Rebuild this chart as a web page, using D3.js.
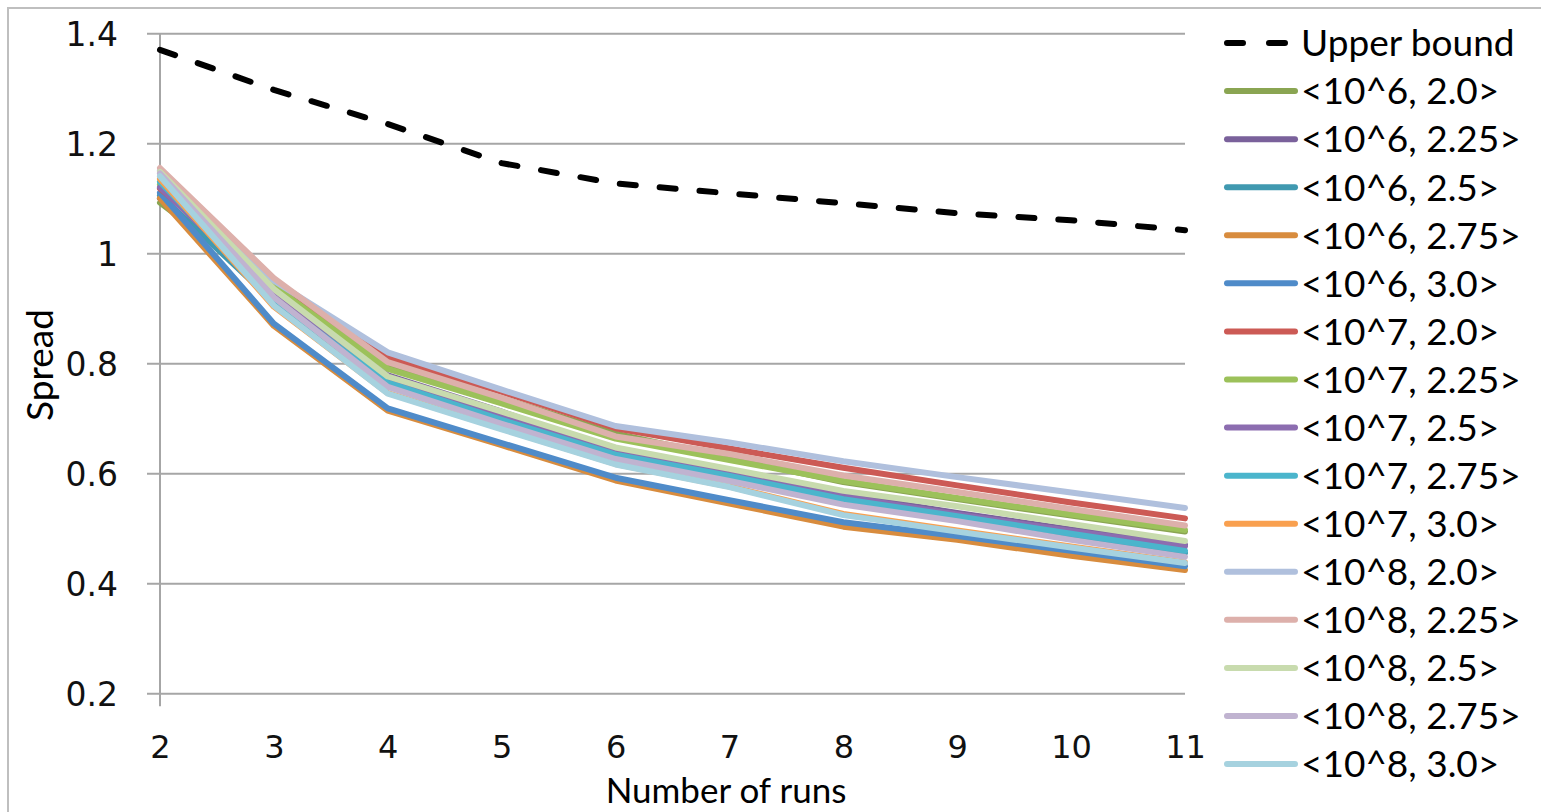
<!DOCTYPE html>
<html>
<head>
<meta charset="utf-8">
<script src="https://cdn.jsdelivr.net/npm/d3@7"></script>
<style>
  body { margin: 0; background: #fff; }
  svg { display: block; }
</style>
</head>
<body>
<script>
// number of runs on the x axis
var runs = [2, 3, 4, 5, 6, 7, 8, 9, 10, 11];
var yTicks = [0.2, 0.4, 0.6, 0.8, 1, 1.2, 1.4];

var upperBound = [1.370, 1.297, 1.235, 1.164, 1.127, 1.109, 1.091, 1.073, 1.060, 1.042];

// series names and colours, same order as legend
var seriesNames = ["<10^6, 2.0>", "<10^6, 2.25>", "<10^6, 2.5>", "<10^6, 2.75>", "<10^6, 3.0>",
                   "<10^7, 2.0>", "<10^7, 2.25>", "<10^7, 2.5>", "<10^7, 2.75>", "<10^7, 3.0>",
                   "<10^8, 2.0>", "<10^8, 2.25>", "<10^8, 2.5>", "<10^8, 2.75>", "<10^8, 3.0>"];
var seriesColors = ["#8aa552", "#7a619b", "#4099b0", "#d88c3e", "#4f8bc9",
                    "#cc5a55", "#9cc15a", "#8c6db0", "#4bb5cc", "#f9a04f",
                    "#b0c0dd", "#ddb0ab", "#c8dbae", "#c0b3d0", "#a6d2df"];

var s6_20  = [1.092, 0.935, 0.798, 0.736, 0.672, 0.628, 0.584, 0.553, 0.523, 0.494];
var s6_225 = [1.100, 0.928, 0.778, 0.712, 0.641, 0.601, 0.561, 0.528, 0.498, 0.470];
var s6_25  = [1.105, 0.912, 0.762, 0.694, 0.630, 0.589, 0.548, 0.516, 0.485, 0.455];
var s6_275 = [1.100, 0.868, 0.714, 0.651, 0.587, 0.545, 0.503, 0.479, 0.450, 0.424];
var s6_30  = [1.110, 0.872, 0.718, 0.655, 0.592, 0.551, 0.511, 0.486, 0.459, 0.431];
var s7_20  = [1.118, 0.945, 0.810, 0.748, 0.682, 0.645, 0.610, 0.578, 0.547, 0.518];
var s7_225 = [1.125, 0.940, 0.790, 0.727, 0.663, 0.624, 0.586, 0.555, 0.525, 0.497];
var s7_25  = [1.120, 0.925, 0.770, 0.705, 0.637, 0.598, 0.558, 0.525, 0.495, 0.467];
var s7_275 = [1.130, 0.915, 0.765, 0.697, 0.634, 0.595, 0.553, 0.522, 0.490, 0.459];
var s7_30  = [1.135, 0.903, 0.746, 0.681, 0.617, 0.576, 0.526, 0.496, 0.467, 0.438];
var s8_20  = [1.150, 0.950, 0.820, 0.752, 0.686, 0.656, 0.622, 0.593, 0.565, 0.537];
var s8_225 = [1.155, 0.955, 0.802, 0.737, 0.667, 0.635, 0.596, 0.566, 0.535, 0.505];
var s8_25  = [1.148, 0.935, 0.776, 0.712, 0.647, 0.608, 0.568, 0.540, 0.508, 0.477];
var s8_275 = [1.145, 0.920, 0.757, 0.690, 0.626, 0.586, 0.543, 0.513, 0.479, 0.448];
var s8_30  = [1.140, 0.905, 0.745, 0.680, 0.616, 0.575, 0.524, 0.494, 0.465, 0.437];

var seriesValues = [s6_20, s6_225, s6_25, s6_275, s6_30,
                    s7_20, s7_225, s7_25, s7_275, s7_30,
                    s8_20, s8_225, s8_25, s8_275, s8_30];

var W = 1541, H = 812;
var plot = {left: 160, right: 1185, top: 33.3, bottom: 693.3};
var textFont = "Lato, 'Open Sans', sans-serif";
var tickFont = "'DejaVu Sans', Verdana, sans-serif";

var svg = d3.select("body").append("svg")
    .attr("width", W)
    .attr("height", H);

// outer chart border
svg.append("rect")
    .attr("x", 8).attr("y", 8)
    .attr("width", W + 20).attr("height", H + 20)
    .attr("fill", "#fff")
    .attr("stroke", "#bfbfbf")
    .attr("stroke-width", 2);

var xScale = d3.scaleLinear().domain([2, 11]).range([plot.left, plot.right]);
var yScale = d3.scaleLinear().domain([0.2, 1.4]).range([plot.bottom, plot.top]);

//Gridlines + y axis
var yAxis = d3.axisLeft(yScale)
    .tickValues(yTicks)
    .tickSize(-(plot.right - plot.left))
    .tickFormat(function(d) { return d3.format("")(+d.toFixed(1)); });

var gy = svg.append("g")
    .attr("transform", "translate(" + plot.left + ",0)")
    .call(yAxis);
gy.select(".domain").remove();
gy.selectAll(".tick line")
    .attr("x1", -13)
    .attr("stroke", "#a6a6a6")
    .attr("stroke-width", 2);
gy.selectAll(".tick text")
    .attr("x", -42)
    .attr("dy", "0.36em")
    .style("font-family", tickFont)
    .style("font-size", "33px")
    .attr("fill", "#111");

//x axis
var xAxis = d3.axisBottom(xScale)
    .tickValues(runs)
    .tickSize(0)
    .tickFormat(d3.format("d"));

var gx = svg.append("g")
    .attr("transform", "translate(0," + plot.bottom + ")")
    .call(xAxis);
gx.select(".domain").remove();
gx.selectAll(".tick text")
    .attr("y", 53)
    .attr("dy", "0.36em")
    .style("font-family", tickFont)
    .style("font-size", "32px")
    .attr("fill", "#111");

// vertical axis line
svg.append("line")
    .attr("x1", plot.left).attr("x2", plot.left)
    .attr("y1", plot.top).attr("y2", plot.bottom + 13)
    .attr("stroke", "#a6a6a6")
    .attr("stroke-width", 2);

// axis titles
svg.append("text")
    .attr("x", 726).attr("y", 803)
    .attr("text-anchor", "middle")
    .style("font-family", textFont)
    .style("font-size", "35px")
    .text("Number of runs");

svg.append("text")
    .attr("transform", "translate(53,365) rotate(-90)")
    .attr("text-anchor", "middle")
    .style("font-family", textFont)
    .style("font-size", "37px")
    .text("Spread");

// line generator
var line = d3.line()
    .x(function(d, i) { return xScale(runs[i]); })
    .y(function(d) { return yScale(d); });

var lines = svg.append("g");
lines.selectAll("path.series")
    .data(seriesValues)
    .enter()
    .append("path")
    .attr("class", "series")
    .attr("d", function(d) { return line(d); })
    .attr("fill", "none")
    .attr("stroke", function(d, i) { return seriesColors[i]; })
    .attr("stroke-width", 6)
    .attr("stroke-linejoin", "round")
    .attr("stroke-linecap", "round");

lines.append("path")
    .attr("d", line(upperBound))
    .attr("fill", "none")
    .attr("stroke", "#000")
    .attr("stroke-width", 6)
    .attr("stroke-dasharray", "16,24")
    .attr("stroke-linecap", "round");

//Legend
var legendY0 = 43, legendStep = 48.07;
var legendItems = [{name: "Upper bound", color: "#000", dash: true}].concat(
    seriesNames.map(function(n, i) { return {name: n, color: seriesColors[i], dash: false}; }));

var legend = svg.append("g");
var items = legend.selectAll("g")
    .data(legendItems)
    .enter()
    .append("g")
    .attr("transform", function(d, i) { return "translate(0," + (legendY0 + i * legendStep) + ")"; });

items.append("line")
    .attr("x1", 1227).attr("x2", 1295)
    .attr("y1", 0).attr("y2", 0)
    .attr("stroke", function(d) { return d.color; })
    .attr("stroke-width", 6)
    .attr("stroke-linecap", "round")
    .attr("stroke-dasharray", function(d) { return d.dash ? "16,26" : null; });

items.append("text")
    .attr("x", 1301)
    .attr("y", 0)
    .attr("dy", "0.36em")
    .style("font-family", textFont)
    .style("font-size", "37px")
    .attr("fill", "#000")
    .text(function(d) { return d.name; });
</script>
</body>
</html>
